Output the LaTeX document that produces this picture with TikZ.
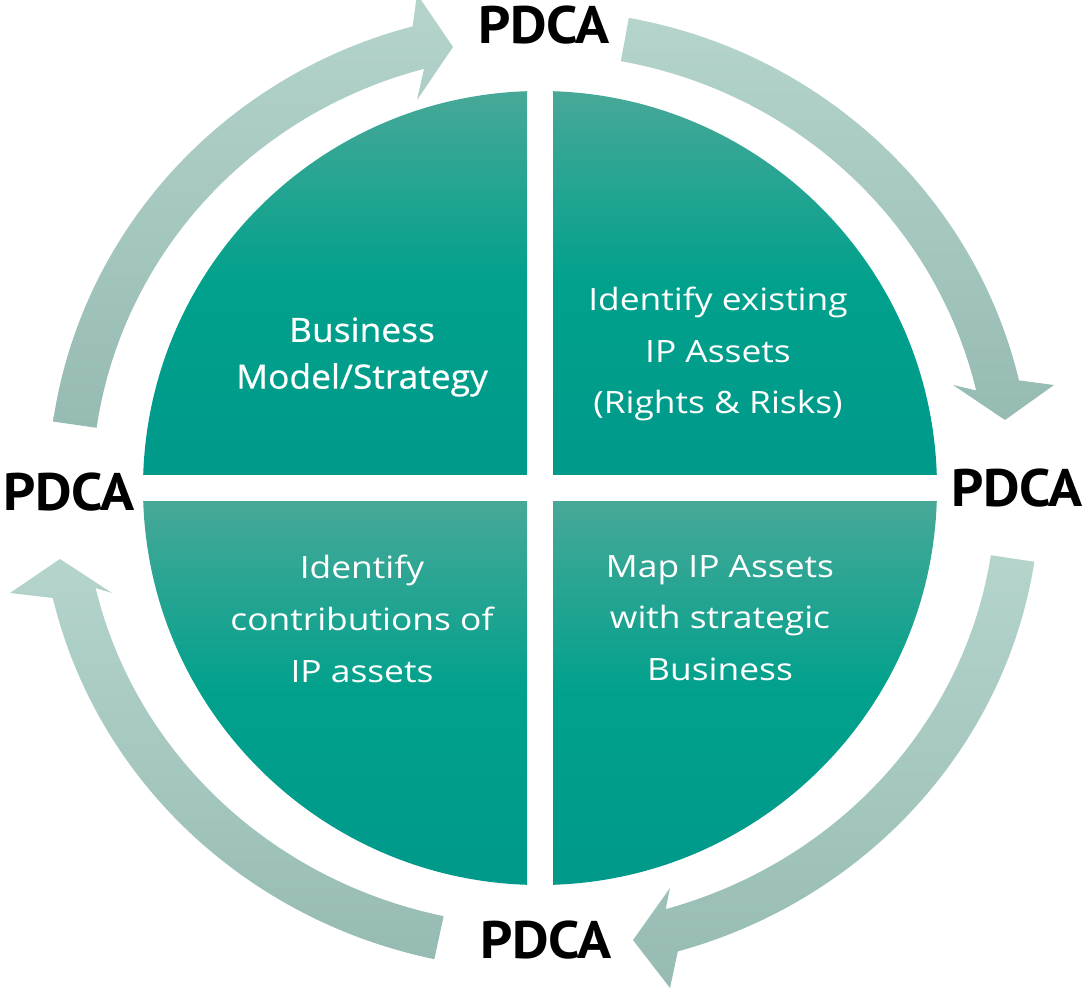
\documentclass[tikz,border=0pt]{standalone}
\usepackage{fontspec}
\setmainfont{Open Sans}
\newfontfamily\quadfont{Open Sans}[FakeStretch=1.15]
\newfontfamily\bizfont{Open Sans}[FakeStretch=1.06, FakeBold=0.6]
\newfontfamily\pdcafont{PT Sans}[FakeStretch=1.07]
\definecolor{quadtop}{HTML}{48A898}
\definecolor{quadmid}{HTML}{00A18C}
\definecolor{quadbot}{HTML}{00998A}
\definecolor{bandtop}{HTML}{B4D4CC}
\definecolor{bandbot}{HTML}{96BBB2}
\tikzset{
x=0.02cm, y=0.02cm, % one unit is one pixel of the sketch, origin in the middle of the ring
quad/.style={top color=quadtop, bottom color=quadbot, middle color=quadmid}, % the four quarters of the disc
band/.style={top color=bandtop, bottom color=bandbot}, % the curved arrows round the disc
quadtext/.style={text=white, align=center, font=\quadfont\fontsize{17.5}{29.5}\selectfont}, % text in a quarter
biztext/.style={text=white, align=center, font=\bizfont\fontsize{19}{26.6}\selectfont}, % text of the first quarter
pdca/.style={text=black, font=\pdcafont\bfseries\fontsize{30}{36}\selectfont}, % labels between the arrows
}

\begin{document}
\begin{tikzpicture}
    \useasboundingbox (-540,-500) rectangle (544,490);
    % the disc, cut in four
    \begin{scope}
        \clip (0,2) circle (397);
        \shade[quad] (-397,15) rectangle (-13,399);
        \shade[quad] (13,15) rectangle (397,399);
        \shade[quad] (-397,-11) rectangle (-13,-395);
        \shade[quad] (13,-11) rectangle (397,-395);
    \end{scope}
    % the four arrows, clockwise
    \shade[band] (171.8:492 and 480) arc[start angle=171.8, end angle=105, x radius=492, y radius=480]
        -- (-123,496) -- (-87,443) -- (-123,390)
        -- (105:448 and 436) arc[start angle=105, end angle=171.8, x radius=448, y radius=436] -- cycle;
    \shade[band] (79.6:492 and 480) arc[start angle=79.6, end angle=13.2, x radius=492, y radius=480]
        -- (514,105) -- (465,70) -- (413,105)
        -- (13.2:448 and 436) arc[start angle=13.2, end angle=79.6, x radius=448, y radius=436] -- cycle;
    \shade[band] (-8.6:500 and 480) arc[start angle=-8.6, end angle=-74, x radius=500, y radius=480]
        -- (130,-498) -- (93,-450) -- (130,-398)
        -- (-74:456 and 436) arc[start angle=-74, end angle=-8.6, x radius=456, y radius=436] -- cycle;
    \shade[band] (257.8:500 and 480) arc[start angle=257.8, end angle=193, x radius=500, y radius=480]
        -- (-530,-103) -- (-480,-69) -- (-428,-103)
        -- (193:456 and 436) arc[start angle=193, end angle=257.8, x radius=456, y radius=436] -- cycle;
    % texts
    \node[biztext] (strategy) at (-178,133) {Business\\Model/Strategy};
    \node[quadtext] (assets) at (178,136) {Identify existing\\IP Assets\\(Rights \& Risks)};
    \node[quadtext] (contrib) at (-178,-129) {Identify\\contributions of\\IP assets};
    \node[quadtext] (mapping) at (180,-128) {Map IP Assets\\with strategic\\Business};
    \node[pdca] (ptop) at (4,465) {PDCA};
    \node[pdca] (pright) at (477,2) {PDCA};
    \node[pdca] (pbottom) at (6,-450) {PDCA};
    \node[pdca] (pleft) at (-471,-2) {PDCA};
\end{tikzpicture}
\end{document}
